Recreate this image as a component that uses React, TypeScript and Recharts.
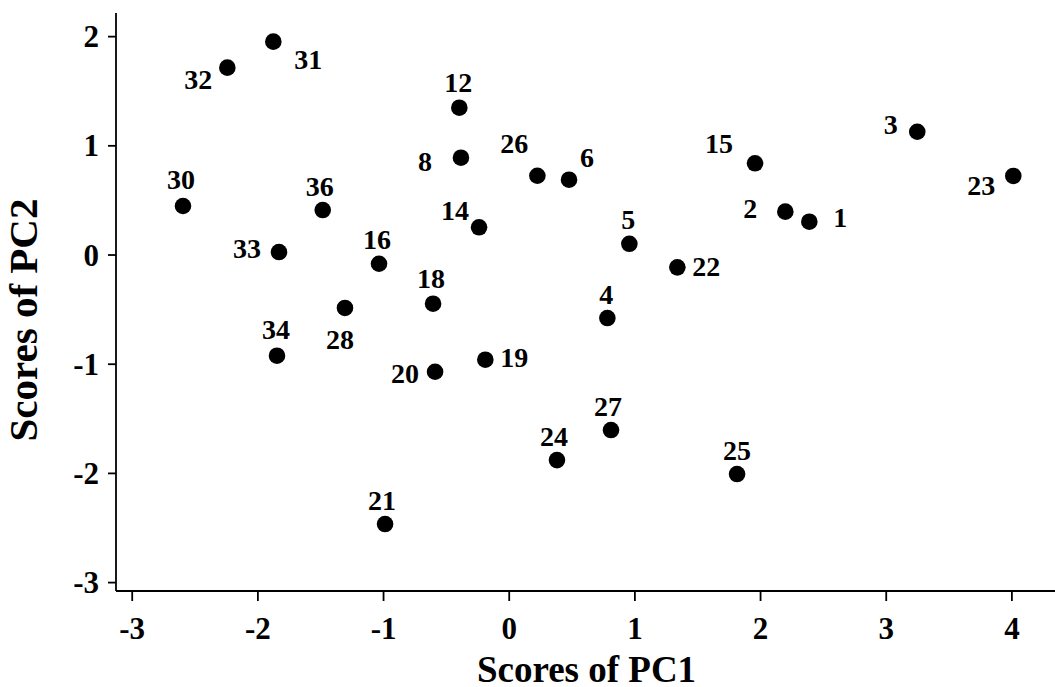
import React from 'react';
import { ScatterChart, Scatter, XAxis, YAxis } from 'recharts';

const sampleIds = [1, 2, 3, 4, 5, 6, 8, 12, 14, 15, 16, 18, 19, 20, 21, 22, 23, 24, 25, 26, 27, 28, 30, 31, 32, 33, 34, 36];
const pc1Scores = [2.388, 2.197, 3.247, 0.781, 0.956, 0.476, -0.384, -0.397, -0.240, 1.956, -1.036, -0.606, -0.190, -0.590, -0.988, 1.338, 4.011, 0.380, 1.813, 0.224, 0.810, -1.307, -2.596, -1.877, -2.243, -1.832, -1.848, -1.484];
const pc2Scores = [0.305, 0.397, 1.129, -0.577, 0.103, 0.690, 0.891, 1.349, 0.254, 0.840, -0.080, -0.446, -0.959, -1.069, -2.464, -0.113, 0.724, -1.878, -2.006, 0.726, -1.603, -0.485, 0.449, 1.954, 1.716, 0.027, -0.922, 0.412];

const xTicks = [-3, -2, -1, 0, 1, 2, 3, 4];
const yTicks = [-3, -2, -1, 0, 1, 2];
const xDomain: [number, number] = [-3.129, 4.343];
const yDomain: [number, number] = [-3.077, 2.2165];
const xTitle = 'Scores of PC1';
const yTitle = 'Scores of PC2';

// where each sample number sits relative to its dot (label centre offset, px)
const labelOffsets: Record<number, [number, number]> = {
  1: [31, -4], 2: [-35, -3], 3: [-26.5, -7], 4: [-1, -23.5], 5: [-1, -24], 6: [18, -22],
  8: [-36, 4], 12: [-1, -25], 14: [-24, -17], 15: [-36, -20], 16: [-2, -24], 18: [-2, -25],
  19: [29, -2], 20: [-30, 2], 21: [-3, -24], 22: [29, -1], 23: [-32, 10], 24: [-3, -24],
  25: [0, -24], 26: [-23, -32], 27: [-3, -24], 28: [-5, 32], 30: [-2, -26], 31: [35, 18],
  32: [-29, 12], 33: [-32, -4], 34: [-1, -26], 36: [-3, -23],
};

const points = sampleIds.map((id, i) => ({ id, pc1: pc1Scores[i], pc2: pc2Scores[i] }));

const FONT = "'Liberation Serif', 'Times New Roman', serif";
const TICK_FS = 31;

const Dot = (props: any) => {
  const { cx, cy, payload } = props;
  const off = labelOffsets[payload.id] || [0, -24];
  const fs = 28;
  return (
    <g>
      <circle cx={cx} cy={cy} r={8.3} fill="#000" />
      <text
        x={cx + off[0]}
        y={cy + off[1] + fs * 0.338}
        textAnchor="middle"
        fontFamily={FONT}
        fontWeight="bold"
        fontSize={fs}
        fill="#000"
      >
        {payload.id}
      </text>
    </g>
  );
};

const XTick = (props: any) => {
  const { x, y, payload } = props;
  return (
    <text x={x} y={y + TICK_FS * 0.7} textAnchor="middle" fontFamily={FONT} fontWeight="bold" fontSize={TICK_FS} fill="#000">
      {payload.value}
    </text>
  );
};

const YTick = (props: any) => {
  const { x, y, payload } = props;
  return (
    <text x={x} y={y + TICK_FS * 0.34} textAnchor="end" fontFamily={FONT} fontWeight="bold" fontSize={TICK_FS} fill="#000">
      {payload.value}
    </text>
  );
};

const XTitle = (props: any) => {
  const vb = props.viewBox || { x: 0, y: 0, width: 0, height: 0 };
  return (
    <text
      x={vb.x + vb.width / 2 + 1}
      y={vb.y + vb.height - 5}
      textAnchor="middle"
      fontFamily={FONT}
      fontWeight="bold"
      fontSize={37}
      fill="#000"
    >
      {xTitle}
    </text>
  );
};

const YTitle = (props: any) => {
  const vb = props.viewBox || { x: 0, y: 0, width: 0, height: 0 };
  const x = vb.x + 37;
  const y = vb.y + vb.height / 2 + 18;
  return (
    <text
      x={x}
      y={y}
      transform={`rotate(-90 ${x} ${y})`}
      textAnchor="middle"
      fontFamily={FONT}
      fontWeight="bold"
      fontSize={41}
      fill="#000"
    >
      {yTitle}
    </text>
  );
};

export default function App() {
  return (
    <div style={{ position: 'absolute', left: 0, top: 0, width: 1055, height: 687, overflow: 'hidden', background: '#fff' }}>
      <ScatterChart width={1055} height={687} margin={{ top: 13, right: 0, bottom: 0, left: 0 }}>
        <XAxis
          xAxisId="top"
          orientation="top"
          type="number"
          dataKey="pc1"
          domain={xDomain}
          allowDataOverflow
          height={0}
          tick={false}
          tickLine={false}
          axisLine={{ stroke: '#000', strokeWidth: 1.8 }}
        />
        <XAxis
          type="number"
          dataKey="pc1"
          domain={xDomain}
          ticks={xTicks}
          allowDataOverflow
          height={96}
          tickSize={10}
          tickMargin={16}
          tick={<XTick />}
          tickLine={{ stroke: '#000', strokeWidth: 1.8 }}
          axisLine={{ stroke: '#000', strokeWidth: 1.8 }}
          label={<XTitle />}
        />
        <YAxis
          type="number"
          dataKey="pc2"
          domain={yDomain}
          ticks={yTicks}
          allowDataOverflow
          width={116}
          tickSize={8}
          tickMargin={9}
          tick={<YTick />}
          tickLine={{ stroke: '#000', strokeWidth: 1.8 }}
          axisLine={{ stroke: '#000', strokeWidth: 1.8 }}
          label={<YTitle />}
        />
        <Scatter data={points} shape={Dot} isAnimationActive={false} />
      </ScatterChart>
    </div>
  );
}
